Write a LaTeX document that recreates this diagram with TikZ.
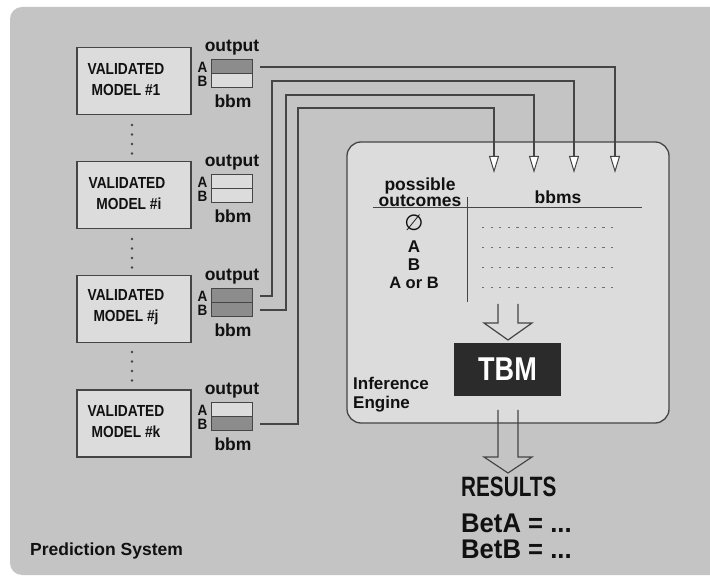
\documentclass[tikz,border=0pt]{standalone}
\usepackage{fontspec}
\usepackage{graphicx}
\setmainfont{Liberation Sans}
\newfontfamily\symfont{DejaVu Sans}
\usetikzlibrary{arrows.meta}
\definecolor{bgout}{HTML}{C4C4C4}
\definecolor{boxfill}{HTML}{DCDCDC}
\definecolor{edge}{HTML}{454545}
\definecolor{celldark}{HTML}{8C8C8C}
\definecolor{tbmfill}{HTML}{2B2B2B}
\definecolor{dotc}{HTML}{707070}
\definecolor{ink}{HTML}{111111}
\newcommand{\hsq}[1]{\scalebox{0.86}[1]{#1}}
\begin{document}
\begin{tikzpicture}[x=1pt,y=-1pt,font=\bfseries,text=ink,
  model/.style={draw=edge,line width=1.3pt,fill=boxfill,minimum width=114pt,minimum height=67pt,inner sep=0pt},
  modeltext/.style={align=center,font=\bfseries\fontsize{16}{21}\selectfont,inner sep=0pt},
  cell/.style={draw=edge,line width=1pt,minimum width=41pt,minimum height=14pt,inner sep=0pt},
  lbl/.style={font=\bfseries\fontsize{17.5}{18}\selectfont,inner sep=0pt},
  ablbl/.style={font=\bfseries\fontsize{15}{15}\selectfont,inner sep=0pt},
  conn/.style={draw=edge,line width=1.3pt},
  arr/.style={conn,-{Triangle[length=17pt,width=10pt,fill=white,line width=1pt]}},
  vdot/.style={fill=edge,circle,inner sep=0pt,minimum size=2.6pt},
  hollow/.style={draw=edge,line width=1.2pt,line join=miter},
  dotline/.style={draw=dotc,line width=1pt,dash pattern=on 2.2pt off 6.4pt}
]
\useasboundingbox (0,0) rectangle (710,577);
\fill[white] (0,0) rectangle (710,577);
\clip (0,0) rectangle (710,577);
\fill[bgout,rounded corners=12pt] (10,7) rectangle (740,575);

% models
\node[model] (m1) at (134,81) {};
\node[model] (mi) at (134,195) {};
\node[model] (mj) at (134,309) {};
\node[model] (mk) at (134,423.5) {};
\node[modeltext] (t1) at (126,79.5) {\hsq{VALIDATED}\\\hsq{MODEL \#1}};
\node[modeltext] (ti) at (127,193.5) {\hsq{VALIDATED}\\\hsq{\ MODEL \#i}};
\node[modeltext] (tj) at (126,307.5) {\hsq{VALIDATED}\\\hsq{MODEL \#j}};
\node[modeltext] (tk) at (126,422) {\hsq{VALIDATED}\\\hsq{MODEL \#k}};

% vertical dots
\foreach \y [count=\n] in {125,134.5,144,153.5} {\node[vdot] (da\n) at (132,\y) {};}
\foreach \y [count=\n] in {239,248.5,258,267.5} {\node[vdot] (db\n) at (132,\y) {};}
\foreach \y [count=\n] in {352,361.5,371,380.5} {\node[vdot] (dc\n) at (132,\y) {};}

% output cells
\node[cell,fill=celldark] (o1a) at (231.5,67) {};
\node[cell,fill=boxfill] (o1b) at (231.5,81) {};
\node[cell,fill=boxfill] (oia) at (231.5,182) {};
\node[cell,fill=boxfill] (oib) at (231.5,196) {};
\node[cell,fill=celldark] (oja) at (231.5,296) {};
\node[cell,fill=celldark] (ojb) at (231.5,310) {};
\node[cell,fill=boxfill] (oka) at (231.5,410) {};
\node[cell,fill=celldark] (okb) at (231.5,424) {};

% output labels
\foreach \n/\y in {1/60,i/175,j/289,k/403} {
  \node[lbl] (out\n) at (232,\y-12) {output};
  \node[lbl] (bbm\n) at (233,\y+41) {bbm};
  \node[ablbl] (la\n) at (202.5,\y+7) {\scalebox{0.9}[1]{A}};
  \node[ablbl] (lb\n) at (202.5,\y+21) {\scalebox{0.9}[1]{B}};
}

% inference engine
\node[draw=edge,line width=1.3pt,fill=boxfill,rounded corners=14pt,minimum width=322pt,minimum height=281pt,inner sep=0pt] (eng) at (508,282.5) {};

% arrow ends
\coordinate (e1) at (615,173);
\coordinate (e2) at (574,173);
\coordinate (e3) at (534,173);
\coordinate (e4) at (494,173);

\draw[arr] ([xshift=7pt]o1a.east) -- (e1 |- o1a.east) -- (e1);
\draw[arr] ([xshift=7pt]oja.east) -| (272,81) -- (e2 |- 0,81) -- (e2);
\draw[arr] ([xshift=7pt]ojb.east) -| (286,95) -- (e3 |- 0,95) -- (e3);
\draw[arr] ([xshift=7pt]okb.east) -| (298,108) -- (e4 |- 0,108) -- (e4);

% table
\node[lbl,align=center,font=\bfseries\fontsize{17.5}{15}\selectfont] (po) at (420,192) {possible\\outcomes};
\node[lbl] (bbms) at (558,197) {bbms};
\draw[edge,line width=1pt] (373,208) -- (642,208);
\draw[edge,line width=1pt] (467,197) -- (467,302);
\node[inner sep=0pt,font=\symfont\fontsize{22}{22}\selectfont] (empty) at (414,223) {∅};
\node[lbl,font=\bfseries\fontsize{17}{17}\selectfont] (oa) at (414,247) {A};
\node[lbl,font=\bfseries\fontsize{17}{17}\selectfont] (ob) at (414,265) {B};
\node[lbl,font=\bfseries\fontsize{16.5}{17}\selectfont] (oab) at (414,283) {A or B};
\foreach \y in {228,248,268,288} {\draw[dotline] (482,\y) -- (614,\y);}

% TBM
\node[fill=tbmfill,minimum width=107pt,minimum height=53pt,inner sep=0pt,text=white,font=\bfseries\fontsize{33}{33}\selectfont] (tbm) at (507.5,369.5) {\scalebox{0.82}[1]{TBM}};

% hollow arrows
\draw[hollow] (498,304) -- (498,323) -- (484,323) -- (508,340) -- (532,323) -- (518,323) -- (518,304);
\draw[hollow] (498,410) -- (498,457) -- (484,457) -- (508,473) -- (532,457) -- (518,457) -- (518,410);

% labels
\node[anchor=west,align=left,inner sep=0pt,font=\bfseries\fontsize{17}{19}\selectfont] (ie) at (353,394.5) {Inference\\Engine};
\node[anchor=west,inner sep=0pt,font=\bfseries\fontsize{17.5}{18}\selectfont] (ps) at (30,551) {Prediction System};
\node[anchor=west,inner sep=0pt,font=\bfseries\fontsize{28}{28}\selectfont] (res) at (461,487) {\scalebox{0.74}[1]{RESULTS}};
\node[anchor=west,inner sep=0pt,font=\bfseries\fontsize{27}{27}\selectfont] (beta) at (461,523) {\scalebox{0.95}[1]{BetA = ...}};
\node[anchor=west,inner sep=0pt,font=\bfseries\fontsize{27}{27}\selectfont] (betb) at (461,549) {\scalebox{0.95}[1]{BetB = ...}};
\end{tikzpicture}
\end{document}
